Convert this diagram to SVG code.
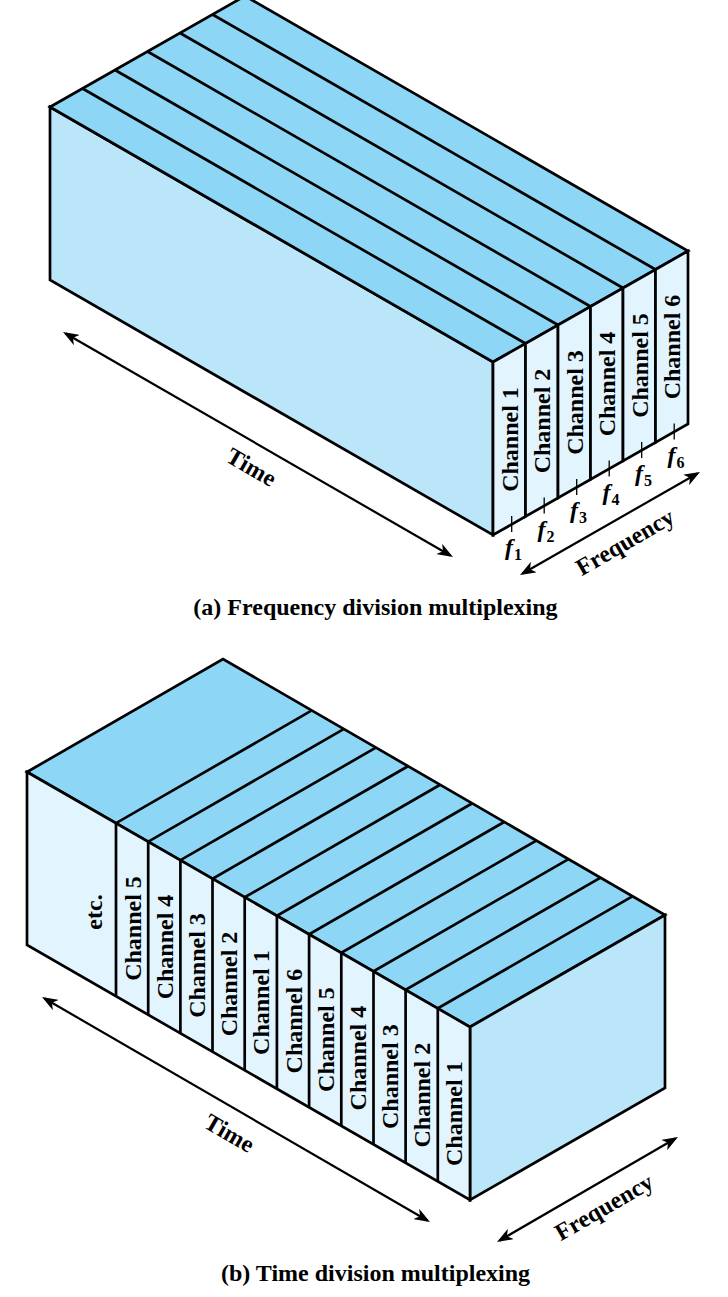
<svg xmlns="http://www.w3.org/2000/svg" width="728" height="1297" viewBox="0 0 728 1297">
  <style>
    .top { fill: #8dd6f5; stroke: #000; stroke-width: 2.7; stroke-linejoin: miter; }
    .mid { fill: #bbe5f8; stroke: #000; stroke-width: 2.7; }
    .lite { fill: #e2f4fd; stroke: #000; stroke-width: 2.7; }
    .edge { fill: none; stroke: #000; stroke-width: 2.7; }
    .tick { fill: none; stroke: #000; stroke-width: 1.3; }
    .arrow { fill: none; stroke: #000; stroke-width: 2.2; marker-start: url(#head); marker-end: url(#head); }
    .lbl { font-family: "Liberation Serif", "Times New Roman", serif; font-weight: bold; font-size: 24px; fill: #000; text-anchor: middle; }
    .freq { font-family: "Liberation Serif", "Times New Roman", serif; font-style: italic; font-weight: bold; font-size: 24px; fill: #000; }
    .sub { font-style: normal; font-size: 16px; }
  </style>
  <defs>
    <marker id="head" viewBox="0 0 16 12" markerWidth="16" markerHeight="12" markerUnits="userSpaceOnUse" refX="13" refY="6" orient="auto-start-reverse">
      <path d="M0,0 L16,6 L0,12 L4.5,6 Z" fill="#000"/>
    </marker>
  </defs>

  <!-- (a) Frequency division multiplexing -->
  <g id="fdm-block">
    <polygon class="mid" points="50,107 493,362 493,535 50,280"/>
    <polygon class="top" points="50,107 245,-4 688,251 493,362"/>
    <!-- stripes on top face, one per channel -->
    <path class="edge" d="M525.5,343.5 L82.5,88.5 M558,325 L115,70 M590.5,306.5 L147.5,51.5 M623,288 L180,33 M655.5,269.5 L212.5,14.5"/>
  </g>
  <g id="fdm-ch1"><polygon class="lite" points="493,362 525.5,343.5 525.5,516.5 493,535"/><text class="lbl" transform="translate(517.5,439.5) rotate(-90)">Channel 1</text></g>
  <g id="fdm-ch2"><polygon class="lite" points="525.5,343.5 558,325 558,498 525.5,516.5"/><text class="lbl" transform="translate(550,421) rotate(-90)">Channel 2</text></g>
  <g id="fdm-ch3"><polygon class="lite" points="558,325 590.5,306.5 590.5,479.5 558,498"/><text class="lbl" transform="translate(582.5,402.5) rotate(-90)">Channel 3</text></g>
  <g id="fdm-ch4"><polygon class="lite" points="590.5,306.5 623,288 623,461 590.5,479.5"/><text class="lbl" transform="translate(615,384) rotate(-90)">Channel 4</text></g>
  <g id="fdm-ch5"><polygon class="lite" points="623,288 655.5,269.5 655.5,442.5 623,461"/><text class="lbl" transform="translate(647.5,365.5) rotate(-90)">Channel 5</text></g>
  <g id="fdm-ch6"><polygon class="lite" points="655.5,269.5 688,251 688,424 655.5,442.5"/><text class="lbl" transform="translate(680,347) rotate(-90)">Channel 6</text></g>

  <!-- carrier frequency marks -->
  <g id="fdm-freqs">
    <path class="tick" d="M511.7,516 V532 M544.2,497.5 V513.5 M576.7,479 V495 M609.2,460.5 V476.5 M641.7,442 V458 M674.2,423.5 V439.5"/>
    <text class="freq" x="505" y="555">f<tspan class="sub" dx="1" dy="5">1</tspan></text>
    <text class="freq" x="537.5" y="536.5">f<tspan class="sub" dx="1" dy="5">2</tspan></text>
    <text class="freq" x="570" y="518">f<tspan class="sub" dx="1" dy="5">3</tspan></text>
    <text class="freq" x="602.5" y="499.5">f<tspan class="sub" dx="1" dy="5">4</tspan></text>
    <text class="freq" x="635" y="481">f<tspan class="sub" dx="1" dy="5">5</tspan></text>
    <text class="freq" x="667.5" y="462.5">f<tspan class="sub" dx="1" dy="5">6</tspan></text>
  </g>

  <!-- (b) Time division multiplexing -->
  <g id="tdm-block">
    <polygon class="top" points="27,772 223,659 665,915 470,1027"/>
    <polygon class="mid" points="470,1027 665,915 665,1088 470,1200"/>
    <polygon class="lite" points="27,772 470,1027 470,1200 27,945"/>
    <!-- slot boundaries: up the front face, then back across the top -->
    <path class="edge" d="
      M116,996.2 V823.2 L311,710.9
      M148.2,1014.7 V841.7 L343.2,729.4
      M180.4,1033.2 V860.2 L375.4,747.9
      M212.5,1051.8 V878.8 L407.5,766.5
      M244.7,1070.3 V897.3 L439.7,785
      M276.9,1088.8 V915.8 L471.9,803.5
      M309.1,1107.3 V934.3 L504.1,822
      M341.3,1125.9 V952.9 L536.3,840.6
      M373.5,1144.4 V971.4 L568.5,859.1
      M405.6,1162.9 V989.9 L600.6,877.6
      M437.8,1181.4 V1008.4 L632.8,896.1"/>
  </g>
  <g id="tdm-etc"><text class="lbl" transform="translate(102,912) rotate(-90)">etc.</text></g>
  <g id="tdm-s1"><text class="lbl" transform="translate(140.6,928.5) rotate(-90)">Channel 5</text></g>
  <g id="tdm-s2"><text class="lbl" transform="translate(172.8,947) rotate(-90)">Channel 4</text></g>
  <g id="tdm-s3"><text class="lbl" transform="translate(205,965.5) rotate(-90)">Channel 3</text></g>
  <g id="tdm-s4"><text class="lbl" transform="translate(237.1,984) rotate(-90)">Channel 2</text></g>
  <g id="tdm-s5"><text class="lbl" transform="translate(269.3,1002.6) rotate(-90)">Channel 1</text></g>
  <g id="tdm-s6"><text class="lbl" transform="translate(301.5,1021.1) rotate(-90)">Channel 6</text></g>
  <g id="tdm-s7"><text class="lbl" transform="translate(333.7,1039.6) rotate(-90)">Channel 5</text></g>
  <g id="tdm-s8"><text class="lbl" transform="translate(365.9,1058.1) rotate(-90)">Channel 4</text></g>
  <g id="tdm-s9"><text class="lbl" transform="translate(398.1,1076.7) rotate(-90)">Channel 3</text></g>
  <g id="tdm-s10"><text class="lbl" transform="translate(430.2,1095.2) rotate(-90)">Channel 2</text></g>
  <g id="tdm-s11"><text class="lbl" transform="translate(462.4,1113.7) rotate(-90)">Channel 1</text></g>

  <!-- axis arrows -->
  <g id="connectors">
    <line class="arrow" x1="65.6" y1="333.5" x2="450.4" y2="555.5"/>
    <line class="arrow" x1="522.6" y1="573.5" x2="697.4" y2="473.5"/>
    <line class="arrow" x1="44.6" y1="998.5" x2="427.4" y2="1220.5"/>
    <line class="arrow" x1="499.6" y1="1240.5" x2="675.4" y2="1138.5"/>
  </g>
  <g id="axis-labels">
    <text class="lbl" transform="translate(247.5,474) rotate(30)">Time</text>
    <text class="lbl" transform="translate(629,549) rotate(-30)">Frequency</text>
    <text class="lbl" transform="translate(225.5,1140) rotate(30)">Time</text>
    <text class="lbl" transform="translate(608,1214) rotate(-30)">Frequency</text>
  </g>

  <g id="captions">
    <text class="lbl" x="375.5" y="615">(a) Frequency division multiplexing</text>
    <text class="lbl" x="375.5" y="1281">(b) Time division multiplexing</text>
  </g>
</svg>
